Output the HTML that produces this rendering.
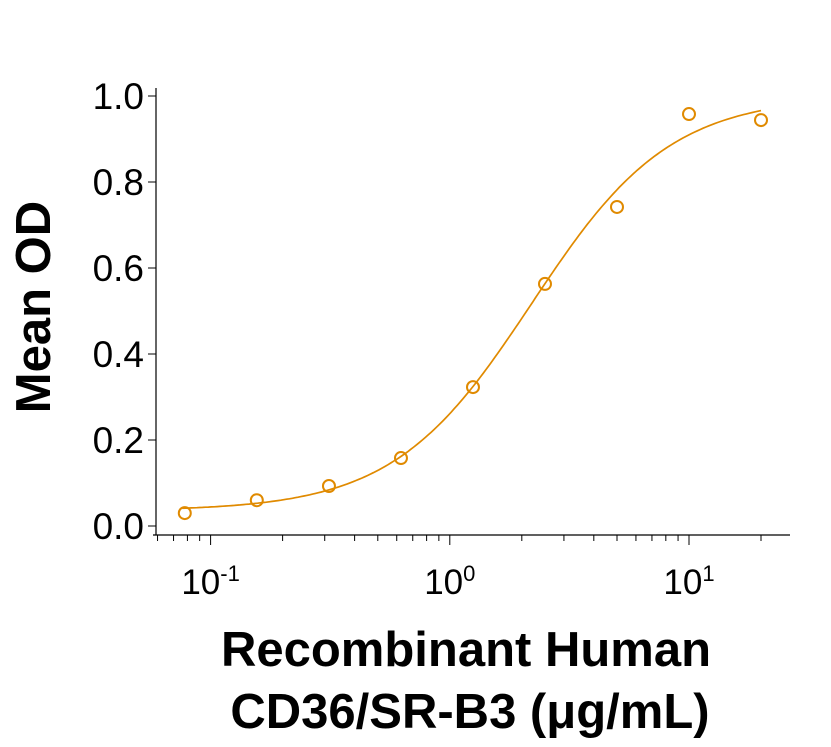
<!DOCTYPE html>
<html><head><meta charset="utf-8"><style>
body{margin:0;background:#fff}
svg text{font-family:"Liberation Sans",Arial,sans-serif}
</style></head><body>
<svg id="chart" width="831" height="742" viewBox="0 0 831 742" xmlns="http://www.w3.org/2000/svg">
<g id="axes"></g>
<g id="marks"></g>
<text transform="translate(50,307) rotate(-90)" text-anchor="middle" font-size="49" font-weight="bold">Mean OD</text>
<text x="466" y="666" text-anchor="middle" font-size="49" font-weight="bold">Recombinant Human</text>
<text x="470" y="728" text-anchor="middle" font-size="49" font-weight="bold">CD36/SR-B3 (μg/mL)</text>
</svg>
<script>
const concentrations=[0.078,0.156,0.3125,0.625,1.25,2.5,5,10,20];
const meanOD=[0.03,0.06,0.093,0.158,0.323,0.563,0.742,0.958,0.944];
const yTicks=[0,0.2,0.4,0.6,0.8,1.0];
const yTickLabels=["0.0","0.2","0.4","0.6","0.8","1.0"];
const xDecades=[-1,0,1];
const fitParams=[0.035,1.0,2.2,1.5]; // bottom, top, EC50, hill

const NS="http://www.w3.org/2000/svg";
const X0=449.8, DEC=239.2, Y0=526, YS=430;
function xs(v){return X0+Math.log10(v)*DEC;}
function ys(v){return Y0-v*YS;}
function mk(tag,attrs,parent){const e=document.createElementNS(NS,tag);for(const k in attrs)e.setAttribute(k,attrs[k]);parent.appendChild(e);return e;}
const axes=document.getElementById('axes'), marks=document.getElementById('marks');
const col="#E08A00";

let yl=mk('line',{x1:156,y1:88,x2:156,y2:535,stroke:'#000','stroke-width':1.2},axes);


let xl=mk('line',{x1:153,y1:535,x2:790,y2:535,stroke:'#000','stroke-width':1.2},axes);



yTicks.forEach((t,i)=>{
  const y=ys(t);
  const tk=mk('line',{x1:148,y1:y,x2:156,y2:y,stroke:'#000','stroke-width':1},axes);
  
  
  const tx=mk('text',{x:144,y:y+13,'text-anchor':'end','font-size':37},axes);
  tx.textContent=yTickLabels[i];
  
  
});

for(let d=-2;d<=1;d++){
  for(let m=1;m<=9;m++){
    const v=m*Math.pow(10,d);
    const x=xs(v);
    if(x<154||x>790)continue;
    const major=(m===1);
    const tk=mk('line',{x1:x,y1:535,x2:x,y2:major?545:541,stroke:'#000','stroke-width':1},axes);
    
    
  }
}
xDecades.forEach(d=>{
  const x=xs(Math.pow(10,d));
  const tx=mk('text',{x:x,y:594,'text-anchor':'middle','font-size':35},axes);
  
  
  tx.appendChild(document.createTextNode('10'));
  const sp=document.createElementNS(NS,'tspan');
  sp.setAttribute('dy','-13');sp.setAttribute('font-size','22');
  sp.textContent=String(d);
  tx.appendChild(sp);
});

function fit(x){const[b,t,e,h]=fitParams;return b+(t-b)/(1+Math.pow(e/x,h));}
let pts=[];
const lo=Math.log10(concentrations[0])-0.01, hi=Math.log10(concentrations[concentrations.length-1]);
for(let i=0;i<=200;i++){const lv=lo+(hi-lo)*i/200;const v=Math.pow(10,lv);pts.push(xs(v).toFixed(1)+','+ys(fit(v)).toFixed(1));}
const cv=mk('polyline',{points:pts.join(' '),fill:'none',stroke:col,'stroke-width':1.7},marks);



concentrations.forEach((c,i)=>{
  const p=mk('circle',{cx:xs(c),cy:ys(meanOD[i]),r:6,fill:'none',stroke:col,'stroke-width':2},marks);
  
  
});
</script>
</body></html>
